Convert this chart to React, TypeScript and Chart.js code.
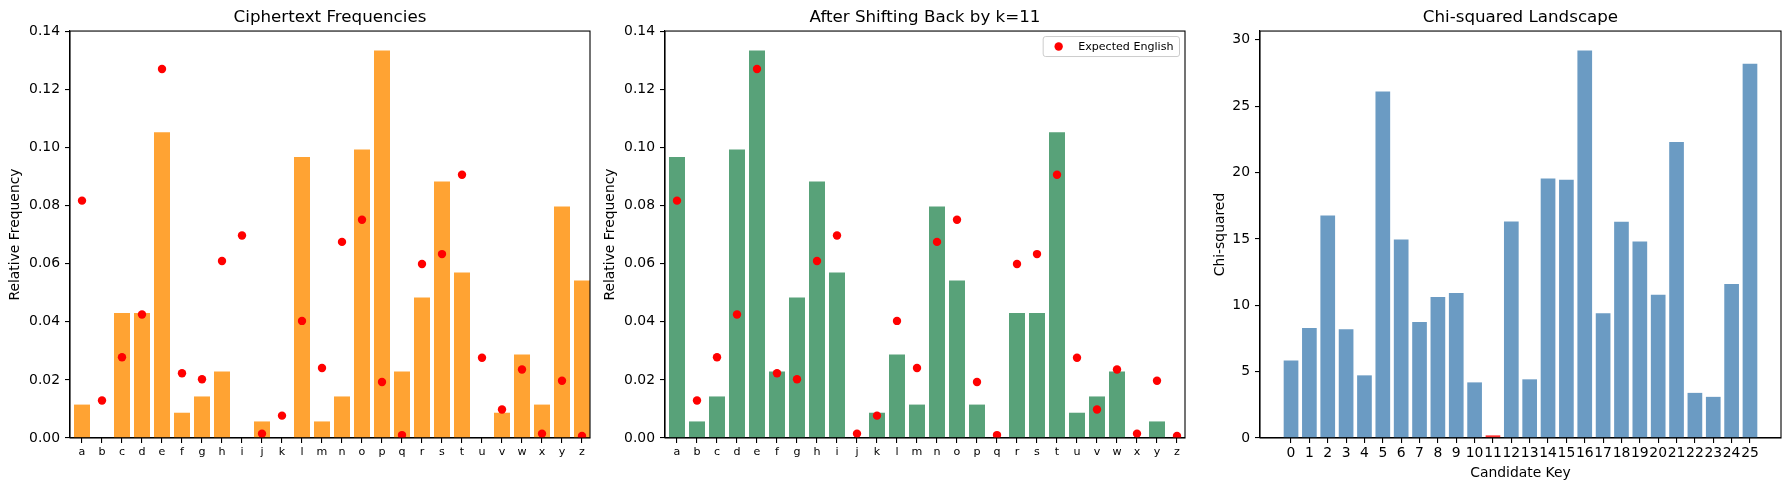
import React, { useEffect, useRef } from 'react';
import { Chart, registerables } from 'chart.js';

Chart.register(...registerables);

// ---------------- data ----------------
const LETTERS = ['a', 'b', 'c', 'd', 'e', 'f', 'g', 'h', 'i', 'j', 'k', 'l', 'm',
  'n', 'o', 'p', 'q', 'r', 's', 't', 'u', 'v', 'w', 'x', 'y', 'z'];

const CIPHER_FREQ = [0.0115, 0, 0.0430, 0.0430, 0.1052, 0.0087, 0.0143, 0.0229, 0, 0.0057,
  0, 0.0967, 0.0057, 0.0143, 0.0993, 0.1334, 0.0229, 0.0484, 0.0883, 0.0570,
  0, 0.0087, 0.0287, 0.0115, 0.0797, 0.0542];

const SHIFTED_FREQ = [0.0967, 0.0057, 0.0143, 0.0993, 0.1334, 0.0229, 0.0484, 0.0883, 0.0570, 0,
  0.0087, 0.0287, 0.0115, 0.0797, 0.0542, 0.0115, 0, 0.0430, 0.0430, 0.1052,
  0.0087, 0.0143, 0.0229, 0, 0.0057, 0];

const ENGLISH_FREQ = [0.0817, 0.0129, 0.0278, 0.0425, 0.1270, 0.0223, 0.0202, 0.0609, 0.0697, 0.0015,
  0.0077, 0.0403, 0.0241, 0.0675, 0.0751, 0.0193, 0.0010, 0.0599, 0.0633, 0.0906,
  0.0276, 0.0098, 0.0236, 0.0015, 0.0197, 0.0007];

const CANDIDATE_KEYS = [0, 1, 2, 3, 4, 5, 6, 7, 8, 9, 10, 11, 12, 13, 14, 15, 16, 17, 18, 19,
  20, 21, 22, 23, 24, 25];

const CHI_SQUARED = [5.83, 8.28, 16.77, 8.2, 4.72, 26.1, 14.95, 8.73, 10.63, 10.93,
  4.19, 0.2, 16.31, 4.42, 19.55, 19.45, 29.2, 9.4, 16.3, 14.8,
  10.8, 22.3, 3.4, 3.1, 11.6, 28.2];

const BEST_KEY = 11;
const SHIFT_TITLE = 'After Shifting Back by k=11';

const FREQ_TICKS = [0, 0.02, 0.04, 0.06, 0.08, 0.1, 0.12, 0.14];
const CHI_TICKS = [0, 5, 10, 15, 20, 25, 30];

// ---------------- styles ----------------
const FONT = "'DejaVu Sans', 'Liberation Sans', sans-serif";
const ORANGE = 'rgba(255,140,0,0.8)';
const GREEN = 'rgba(46,139,87,0.8)';
const BLUE = 'rgba(70,130,180,0.8)';
const BEST_RED = 'rgba(255,0,0,0.8)';

const framePlugin = {
  id: 'frame',
  afterDraw(chart: any) {
    const { ctx, chartArea: a } = chart;
    ctx.save();
    ctx.strokeStyle = '#000';
    ctx.lineWidth = 1.1;
    ctx.strokeRect(a.left, a.top, a.right - a.left, a.bottom - a.top);
    ctx.restore();
  },
};

const innerLegendPlugin = {
  id: 'innerLegend',
  afterDraw(chart: any) {
    const items = chart.data.datasets.filter((d: any) => d.label);
    if (!items.length) return;
    const { ctx, chartArea: a } = chart;
    ctx.save();
    ctx.font = `11.1px ${FONT}`;
    const tw = Math.max(...items.map((d: any) => ctx.measureText(d.label).width));
    const rowH = 14;
    const w = 35 + tw + 6;
    const h = 6 + rowH * items.length;
    const x = a.right - 5.5 - w;
    const y = a.top + 5.5;
    ctx.beginPath();
    if (ctx.roundRect) ctx.roundRect(x, y, w, h, 2.5);
    else ctx.rect(x, y, w, h);
    ctx.fillStyle = 'rgba(255,255,255,0.8)';
    ctx.fill();
    ctx.strokeStyle = '#cccccc';
    ctx.lineWidth = 1;
    ctx.stroke();
    items.forEach((d: any, i: number) => {
      const cy = y + 3 + rowH * i + rowH / 2;
      ctx.beginPath();
      ctx.arc(x + 15.5, cy, 4.2, 0, Math.PI * 2);
      ctx.fillStyle = d.backgroundColor;
      ctx.fill();
      ctx.fillStyle = '#000';
      ctx.textBaseline = 'middle';
      ctx.textAlign = 'left';
      ctx.fillText(d.label, x + 35, cy + 0.5);
    });
    ctx.restore();
  },
};

function buildOptions(p: {
  title: string;
  xMin: number;
  xMax: number;
  xTicks: number[];
  xTickSize: number;
  xCallback: (v: number) => string;
  xLabel?: string;
  yMax: number;
  yTicks: number[];
  yLabel: string;
  yTitlePad: number;
  yCallback: (v: number) => string;
  padRight: number;
}) {
  return {
    responsive: false,
    animation: false,
    layout: { padding: { left: 0, right: p.padRight, top: 0, bottom: 0 } },
    plugins: {
      legend: { display: false },
      tooltip: { enabled: false },
      title: {
        display: true,
        fullSize: false,
        text: p.title,
        color: '#000',
        font: { family: FONT, size: 16.7, weight: 'normal', lineHeight: 1.2 },
        padding: { top: 7.7, bottom: 3.3 },
      },
    },
    scales: {
      x: {
        type: 'linear',
        min: p.xMin,
        max: p.xMax,
        offset: false,
        afterBuildTicks: (axis: any) => {
          axis.ticks = p.xTicks.map((v) => ({ value: v }));
        },
        afterFit: (axis: any) => {
          axis.height = 52;
          axis.paddingLeft = 0;
          axis.paddingRight = 0;
        },
        ticks: {
          autoSkip: false,
          maxRotation: 0,
          minRotation: 0,
          padding: 2.5,
          color: '#000',
          font: { family: FONT, size: p.xTickSize },
          callback: (v: any) => p.xCallback(Number(v)),
        },
        grid: {
          display: true,
          drawOnChartArea: false,
          drawTicks: true,
          tickLength: 5,
          color: '#000',
          lineWidth: 1.1,
          offset: false,
        },
        border: { display: true, color: '#000', width: 1.1 },
        title: p.xLabel
          ? {
              display: true,
              text: p.xLabel,
              color: '#000',
              font: { family: FONT, size: 13.9, lineHeight: 1.2 },
              padding: { top: 0, bottom: 8 },
            }
          : { display: false },
      },
      y: {
        type: 'linear',
        min: 0,
        max: p.yMax,
        afterBuildTicks: (axis: any) => {
          axis.ticks = p.yTicks.map((v) => ({ value: v }));
        },
        afterFit: (axis: any) => {
          axis.width = 70;
          axis.paddingTop = 0;
          axis.paddingBottom = 0;
        },
        ticks: {
          padding: 5,
          color: '#000',
          font: { family: FONT, size: 13.9 },
          callback: (v: any) => p.yCallback(Number(v)),
        },
        grid: {
          display: true,
          drawOnChartArea: false,
          drawTicks: true,
          tickLength: 5,
          color: '#000',
          lineWidth: 1.1,
        },
        border: { display: true, color: '#000', width: 1.1 },
        title: {
          display: true,
          text: p.yLabel,
          color: '#000',
          font: { family: FONT, size: 13.9, lineHeight: 1.2 },
          padding: { top: p.yTitlePad, bottom: 0 },
        },
      },
    },
  };
}

function freqConfig(title: string, bars: number[], color: string, withLegend: boolean) {
  const yMax = Math.max(...bars, ...ENGLISH_FREQ) * 1.05;
  return {
    type: 'bar',
    data: {
      datasets: [
        {
          type: 'scatter',
          label: 'Expected English',
          data: ENGLISH_FREQ.map((v, i) => ({ x: i, y: v })),
          backgroundColor: 'red',
          borderColor: 'red',
          borderWidth: 0,
          pointRadius: 4.2,
          showLine: false,
          order: 0,
        },
        {
          type: 'bar',
          data: bars.map((v, i) => ({ x: i, y: v })),
          backgroundColor: color,
          borderWidth: 0,
          barPercentage: 0.8,
          categoryPercentage: 1,
          order: 1,
        },
      ],
    },
    options: buildOptions({
      title,
      xMin: -0.6,
      xMax: 25.4,
      xTicks: LETTERS.map((_, i) => i),
      xTickSize: 11.1,
      xCallback: (v) => LETTERS[v] ?? '',
      yMax,
      yTicks: FREQ_TICKS,
      yLabel: 'Relative Frequency',
      yTitlePad: 7.1,
      yCallback: (v) => v.toFixed(2),
      padRight: 10,
    }),
    plugins: withLegend ? [framePlugin, innerLegendPlugin] : [framePlugin],
  };
}

function chiConfig() {
  const yMax = Math.max(...CHI_SQUARED) * 1.05;
  return {
    type: 'bar',
    data: {
      datasets: [
        {
          type: 'bar',
          data: CHI_SQUARED.map((v, i) => ({ x: CANDIDATE_KEYS[i], y: v })),
          backgroundColor: CANDIDATE_KEYS.map((k) => (k === BEST_KEY ? BEST_RED : BLUE)),
          borderWidth: 0,
          barPercentage: 0.8,
          categoryPercentage: 1,
        },
      ],
    },
    options: buildOptions({
      title: 'Chi-squared Landscape',
      xMin: -1.69,
      xMax: 26.69,
      xTicks: CANDIDATE_KEYS,
      xTickSize: 13.9,
      xCallback: (v) => String(v),
      xLabel: 'Candidate Key',
      yMax,
      yTicks: CHI_TICKS,
      yLabel: 'Chi-squared',
      yTitlePad: 21.6,
      yCallback: (v) => String(v),
      padRight: 9,
    }),
    plugins: [framePlugin],
  };
}

function Panel({ left, width, make }: { left: number; width: number; make: () => any }) {
  const ref = useRef<HTMLCanvasElement>(null);
  useEffect(() => {
    const chart = new Chart(ref.current as HTMLCanvasElement, make());
    return () => chart.destroy();
  }, []);
  return (
    <canvas
      ref={ref}
      width={width}
      height={490}
      style={{ position: 'absolute', left, top: 0, width, height: 490 }}
    />
  );
}

export default function App() {
  return (
    <div
      style={{
        position: 'absolute',
        left: 0,
        top: 0,
        width: 1790,
        height: 490,
        background: '#fff',
        overflow: 'hidden',
      }}
    >
      <Panel left={0} width={600} make={() => freqConfig('Ciphertext Frequencies', CIPHER_FREQ, ORANGE, false)} />
      <Panel left={595} width={600} make={() => freqConfig(SHIFT_TITLE, SHIFTED_FREQ, GREEN, true)} />
      <Panel left={1190} width={600} make={chiConfig} />
    </div>
  );
}
